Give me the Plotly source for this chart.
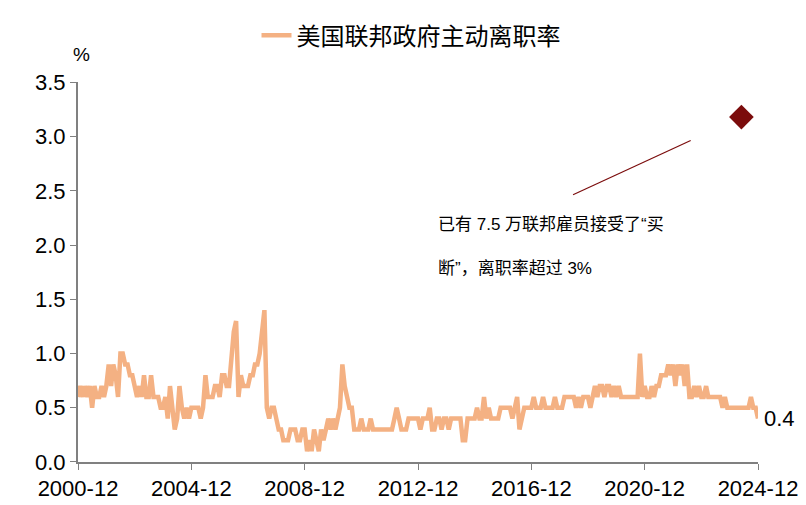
import pandas as pd
import plotly.graph_objects as go

# monthly quit rate, federal government, 2000-12 .. 2024-12
start = "2000-12"
rate_2000 = [0.6]
rate_2001 = [0.7, 0.6, 0.7, 0.6, 0.7, 0.5, 0.7, 0.6, 0.6, 0.7, 0.6, 0.7]
rate_2002 = [0.9, 0.7, 0.9, 0.8, 0.6, 1.0, 1.0, 0.9, 0.9, 0.8, 0.8, 0.7]
rate_2003 = [0.6, 0.7, 0.6, 0.8, 0.6, 0.6, 0.8, 0.6, 0.6, 0.6, 0.5, 0.5]
rate_2004 = [0.6, 0.4, 0.7, 0.5, 0.3, 0.4, 0.7, 0.5, 0.4, 0.5, 0.4, 0.5]
rate_2005 = [0.5, 0.5, 0.5, 0.4, 0.5, 0.8, 0.6, 0.6, 0.6, 0.7, 0.7, 0.6]
rate_2006 = [0.8, 0.8, 0.7, 0.7, 1.0, 1.2, 1.3, 0.6, 0.8, 0.7, 0.7, 0.7]
rate_2007 = [0.8, 0.8, 0.9, 0.9, 1.0, 1.2, 1.4, 0.5, 0.4, 0.5, 0.5, 0.4]
rate_2008 = [0.3, 0.3, 0.2, 0.2, 0.2, 0.3, 0.3, 0.3, 0.2, 0.2, 0.3, 0.3]
rate_2009 = [0.1, 0.2, 0.1, 0.3, 0.2, 0.1, 0.3, 0.2, 0.3, 0.4, 0.3, 0.4]
rate_2010 = [0.3, 0.4, 0.5, 0.9, 0.7, 0.6, 0.5, 0.5, 0.3, 0.3, 0.3, 0.4]
rate_2011 = [0.3, 0.3, 0.3, 0.4, 0.3, 0.3, 0.3, 0.3, 0.3, 0.3, 0.3, 0.3]
rate_2012 = [0.3, 0.4, 0.5, 0.4, 0.3, 0.3, 0.3, 0.4, 0.4, 0.4, 0.4, 0.4]
rate_2013 = [0.3, 0.4, 0.4, 0.4, 0.5, 0.3, 0.3, 0.4, 0.4, 0.3, 0.4, 0.4]
rate_2014 = [0.3, 0.4, 0.4, 0.4, 0.4, 0.4, 0.2, 0.2, 0.4, 0.4, 0.4, 0.4]
rate_2015 = [0.5, 0.4, 0.4, 0.6, 0.4, 0.5, 0.4, 0.4, 0.4, 0.4, 0.5, 0.5]
rate_2016 = [0.5, 0.5, 0.5, 0.4, 0.5, 0.6, 0.3, 0.4, 0.5, 0.5, 0.5, 0.5]
rate_2017 = [0.6, 0.5, 0.5, 0.5, 0.6, 0.5, 0.5, 0.5, 0.5, 0.6, 0.5, 0.5]
rate_2018 = [0.5, 0.6, 0.6, 0.6, 0.6, 0.6, 0.5, 0.6, 0.5, 0.6, 0.6, 0.6]
rate_2019 = [0.5, 0.6, 0.7, 0.6, 0.7, 0.7, 0.6, 0.7, 0.7, 0.6, 0.7, 0.6]
rate_2020 = [0.7, 0.6, 0.6, 0.6, 0.6, 0.6, 0.6, 0.6, 0.6, 1.0, 0.6, 0.7]
rate_2021 = [0.6, 0.6, 0.7, 0.6, 0.7, 0.7, 0.8, 0.8, 0.8, 0.9, 0.8, 0.9]
rate_2022 = [0.7, 0.9, 0.8, 0.9, 0.7, 0.9, 0.6, 0.6, 0.7, 0.6, 0.7, 0.6]
rate_2023 = [0.6, 0.7, 0.6, 0.6, 0.6, 0.6, 0.6, 0.6, 0.5, 0.6, 0.5, 0.5]
rate_2024 = [0.5, 0.5, 0.5, 0.5, 0.5, 0.5, 0.5, 0.5, 0.6, 0.5, 0.5, 0.4]

buyout_date = ["2024-05"]
buyout_rate = [3.18]

tick_labels = ["2000-12", "2004-12", "2008-12", "2012-12", "2016-12", "2020-12", "2024-12"]

rate = (rate_2000 + rate_2001 + rate_2002 + rate_2003 + rate_2004 + rate_2005 + rate_2006
        + rate_2007 + rate_2008 + rate_2009 + rate_2010 + rate_2011 + rate_2012 + rate_2013
        + rate_2014 + rate_2015 + rate_2016 + rate_2017 + rate_2018 + rate_2019 + rate_2020
        + rate_2021 + rate_2022 + rate_2023 + rate_2024)
dates = pd.date_range(start, periods=len(rate), freq="MS")

fig = go.Figure()
fig.add_trace(go.Scatter(x=dates, y=rate, mode="lines", name="美国联邦政府主动离职率",
                         line=dict(color="#F4B183", width=4.5)))
fig.add_trace(go.Scatter(x=pd.to_datetime(buyout_date), y=buyout_rate, mode="markers",
                         showlegend=False,
                         marker=dict(symbol="diamond", size=19, color="#7B0C0C")))

# line pointing to the marker
fig.add_shape(type="line", xref="paper", yref="paper", x0=0.728, y0=0.704, x1=0.901, y1=0.847,
              line=dict(color="#7B0C0C", width=1.2))
fig.add_annotation(xref="paper", yref="paper", x=0.526, y=0.655, xanchor="left", yanchor="top",
                   align="left", showarrow=False,
                   text="已有 7.5 万联邦雇员接受了“买<br><br>断”，离职率超过 3%",
                   font=dict(size=17, color="#000000"))
fig.add_annotation(x=dates[-1], y=rate[-1], xanchor="left", xshift=4, showarrow=False,
                   text=str(rate[-1]), font=dict(size=22, color="#000000"))
fig.add_annotation(xref="paper", yref="paper", x=-0.01, y=1.04, xanchor="left", yanchor="bottom",
                   showarrow=False, text="%", font=dict(size=19, color="#000000"))

tick_vals = [pd.Timestamp(t + "-01") for t in tick_labels]
fig.update_layout(
    width=806, height=505,
    margin=dict(l=70, r=56, t=57, b=50),
    plot_bgcolor="white", paper_bgcolor="white",
    font=dict(family="Liberation Sans, Noto Sans CJK SC, sans-serif", size=22, color="#000000"),
    legend=dict(x=0.5, y=0.99, xref="container", yref="container", xanchor="center",
                yanchor="top", orientation="h",
                font=dict(size=24, family="Noto Sans CJK SC, sans-serif")),
    xaxis=dict(tickvals=tick_vals, ticktext=tick_labels, range=[tick_vals[0], tick_vals[-1]],
               showgrid=False, showline=True, linecolor="#808080", linewidth=2,
               ticks="outside", tickcolor="#808080", ticklen=6),
    yaxis=dict(range=[0, 3.5], dtick=0.5, tickformat=".1f", showgrid=False, showline=True,
               linecolor="#808080", linewidth=2, ticks="outside", tickcolor="#808080",
               ticklen=6, zeroline=False),
)
fig.write_html("out.html")
